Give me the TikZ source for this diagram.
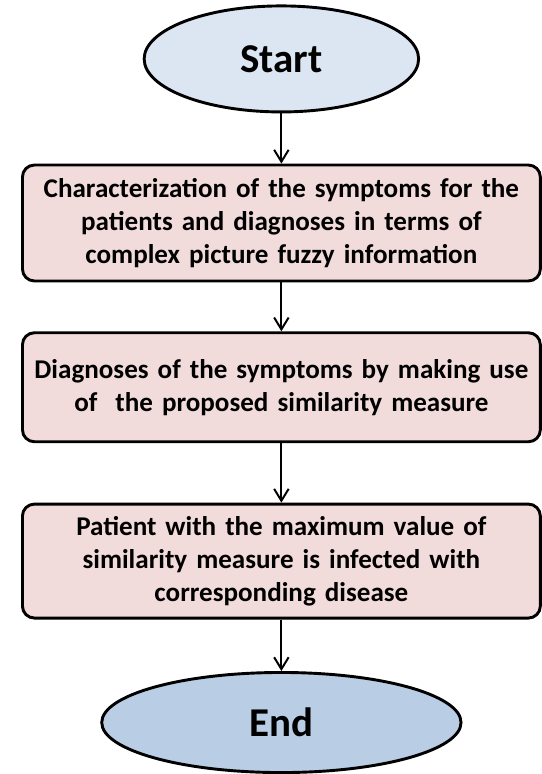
\documentclass[tikz,border=0pt]{standalone}
\usepackage{fontspec}
\setmainfont{Carlito}
\usepackage{tikz}
\usetikzlibrary{positioning,arrows.meta,shapes.geometric}
\definecolor{flowStart}{RGB}{220,230,242}
\definecolor{flowEnd}{RGB}{185,205,229}
\definecolor{flowStep}{RGB}{242,220,219}
\tikzset{
  flow/term/.style={ellipse, draw=black, line width=2.2pt, inner sep=0pt,
                    font=\fontsize{31}{36}\selectfont\bfseries},
  flow/stepbox/.style={draw=black, fill=flowStep, line width=2.2pt, rounded corners=9pt,
                       align=center, text width=380pt, minimum width=392pt,
                       font=\fontsize{20.5}{25}\selectfont\bfseries},
  flow/arrow/.style={-{Straight Barb[length=9pt, width=11pt, line width=1.5pt]},
                     line width=1.5pt, draw=black},
}

\begin{document}
\begin{tikzpicture}

  % ---------------- terminals and steps ----------------
  \node[flow/term, fill=flowStart, minimum width=207.75pt, minimum height=80.25pt]
    (start) {Start};
  \node[flow/stepbox, below=38pt of start, minimum height=87.75pt] (charact)
    {Characterization of the symptoms for the\\
     patients and diagnoses in terms of\\
     complex picture fuzzy information};
  \node[flow/stepbox, below=37pt of charact, minimum height=82.5pt] (diagnose)
    {Diagnoses of the symptoms by making use\\
     of~ the proposed similarity measure};
  \node[flow/stepbox, below=45pt of diagnose, minimum height=86.25pt] (patient)
    {Patient with the maximum value of\\
     similarity measure is infected with\\
     corresponding disease};
  \node[flow/term, fill=flowEnd, below=39pt of patient,
        minimum width=272pt, minimum height=75.75pt] (end) {End};

  % ---------------- arrows ----------------
  \draw[flow/arrow] (start) -- (charact);
  \draw[flow/arrow] (charact) -- (diagnose);
  \draw[flow/arrow] (diagnose) -- (patient);
  \draw[flow/arrow] (patient) -- (end);

  \useasboundingbox ([xshift=-213pt, yshift=44.6pt]start.center)
    rectangle ([xshift=197.25pt]start.center |- 0,-535.9pt);

\end{tikzpicture}
\end{document}
